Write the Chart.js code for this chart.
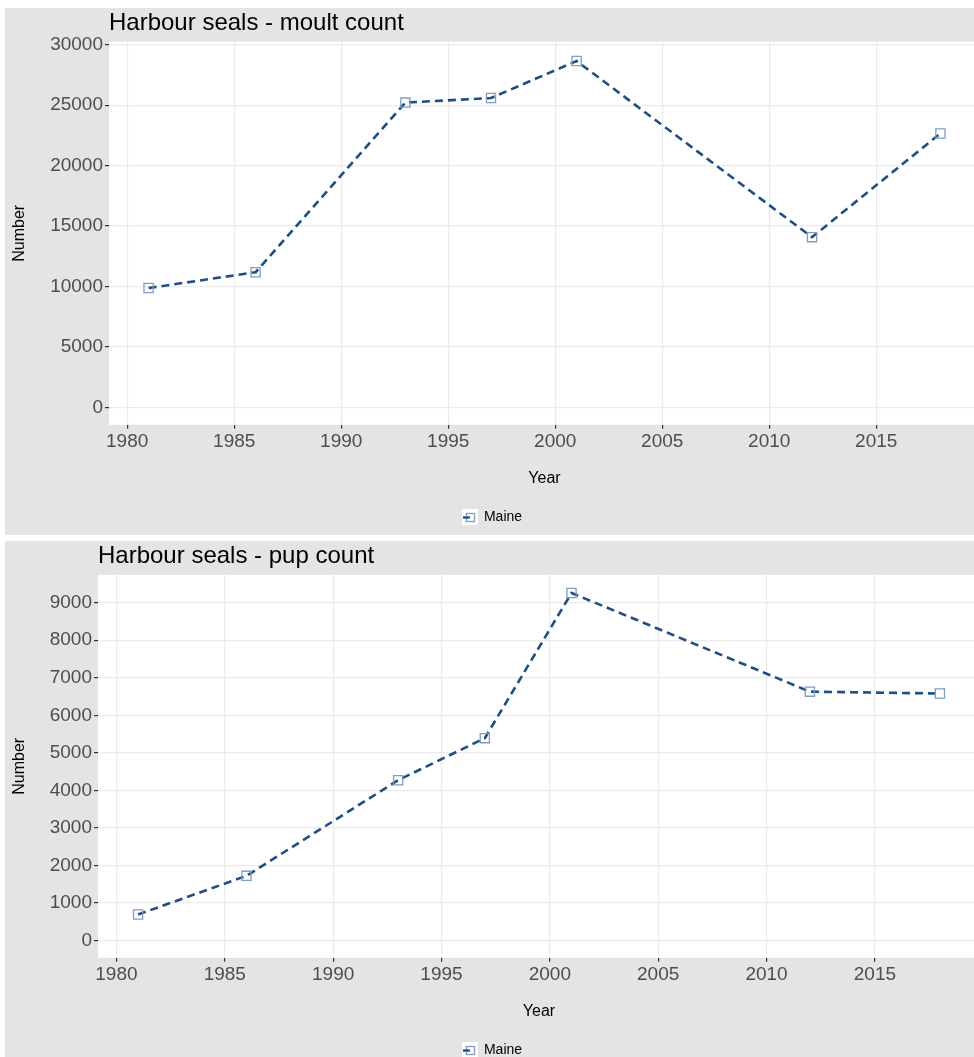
<!DOCTYPE html>
<html>
<head>
<meta charset="utf-8">
<script src="https://cdn.jsdelivr.net/npm/chart.js@4.4.1/dist/chart.umd.min.js"></script>
<style>
  html, body { margin: 0; padding: 0; background: #ffffff; overflow: hidden; }
  .panel { position: absolute; left: 5px; width: 975px; height: 527px; background: #e4e4e4; }
  #p1 { top: 8px; }
  #p2 { top: 541px; }
  canvas { display: block; }
</style>
</head>
<body>
<div class="panel" id="p1"><canvas id="c1" width="975" height="527"></canvas></div>
<div class="panel" id="p2"><canvas id="c2" width="975" height="527"></canvas></div>
<script>
const years = [1981, 1986, 1993, 1997, 2001, 2012, 2018];
const moultCounts = [9870, 11180, 25210, 25590, 28650, 14080, 22660];
const pupCounts = [690, 1720, 4270, 5390, 9260, 6630, 6580];
const xTicks = [1980, 1985, 1990, 1995, 2000, 2005, 2010, 2015];
const moultTicks = [0, 5000, 10000, 15000, 20000, 25000, 30000];
const pupTicks = [0, 1000, 2000, 3000, 4000, 5000, 6000, 7000, 8000, 9000];
const seriesName = 'Maine';
const titles = ['Harbour seals - moult count', 'Harbour seals - pup count'];

const FONT = "'Liberation Sans', Arial, Helvetica, sans-serif";
const LINE_COLOR = '#1b4f8c';
const POINT_COLOR = '#7f9cc6';

// legend key: white key box with a short line and a hollow square
const legendKey = document.createElement('canvas');
legendKey.width = 16; legendKey.height = 16;
(function () {
  const k = legendKey.getContext('2d');
  k.fillStyle = '#ffffff';
  k.fillRect(0, 0, 16, 16);
  k.strokeStyle = POINT_COLOR;
  k.lineWidth = 1.3;
  k.strokeRect(4.5, 4.5, 8, 8);
  k.strokeStyle = LINE_COLOR;
  k.lineWidth = 2.4;
  k.beginPath(); k.moveTo(1, 8.5); k.lineTo(8, 8.5); k.stroke();
})();

const panelBg = {
  id: 'panelBg',
  beforeDraw(chart) {
    const { ctx, chartArea: a } = chart;
    ctx.save();
    ctx.fillStyle = '#ffffff';
    ctx.fillRect(a.left, a.top, a.right - a.left, a.bottom - a.top);
    ctx.restore();
  }
};

function makeChart(id, title, values, yTicks, yMin, yMax, yWidth) {
  const pts = years.map((y, i) => ({ x: y, y: values[i] }));
  return new Chart(document.getElementById(id), {
    type: 'line',
    data: {
      datasets: [{
        label: seriesName,
        data: pts,
        borderColor: LINE_COLOR,
        borderWidth: 2.6,
        borderDash: [8, 5],
        fill: false,
        tension: 0,
        pointStyle: 'rect',
        pointRadius: 6.5,
        pointBorderWidth: 1.3,
        pointBorderColor: POINT_COLOR,
        pointBackgroundColor: 'rgba(255,255,255,0)'
      }]
    },
    options: {
      responsive: false,
      animation: false,
      devicePixelRatio: 1,
      layout: { autoPadding: false, padding: { left: 0, right: 0, top: 0, bottom: 1 } },
      plugins: {
        title: {
          display: true,
          text: title,
          align: 'start',
          fullSize: false,
          color: '#000000',
          font: { family: FONT, size: 24, weight: 'normal' },
          padding: { top: 1, bottom: 4 }
        },
        legend: {
          display: true,
          position: 'bottom',
          labels: {
            usePointStyle: true,
            color: '#000000',
            font: { family: FONT, size: 14 },
            padding: 10,
            generateLabels: (chart) => {
              const items = Chart.defaults.plugins.legend.labels.generateLabels(chart);
              items.forEach(it => { it.pointStyle = legendKey; });
              return items;
            }
          }
        },
        tooltip: { enabled: false }
      },
      scales: {
        x: {
          type: 'linear',
          min: 1979.15,
          max: 2019.85,
          afterBuildTicks: (s) => { s.ticks = xTicks.map(v => ({ value: v })); },
          afterFit: (s) => { s.paddingLeft = 0; s.paddingRight = 0; },
          ticks: {
            color: '#4d4d4d',
            font: { family: FONT, size: 19, lineHeight: 1 },
            padding: 3,
            callback: (v) => String(v)
          },
          grid: { color: '#ebebeb', lineWidth: 1.2, tickLength: 4, tickColor: '#333333' },
          border: { display: false },
          title: {
            display: true,
            text: 'Year',
            color: '#000000',
            font: { family: FONT, size: 16 },
            padding: { top: 15, bottom: 12 }
          }
        },
        y: {
          type: 'linear',
          min: yMin,
          max: yMax,
          afterBuildTicks: (s) => { s.ticks = yTicks.map(v => ({ value: v })); },
          afterFit: (s) => { s.width = yWidth; s.paddingTop = 0; s.paddingBottom = 0; },
          ticks: {
            color: '#4d4d4d',
            font: { family: FONT, size: 19 },
            padding: 2,
            callback: (v) => String(v)
          },
          grid: { color: '#ebebeb', lineWidth: 1.2, tickLength: 4, tickColor: '#333333' },
          border: { display: false },
          title: {
            display: true,
            text: 'Number',
            color: '#000000',
            font: { family: FONT, size: 16 },
            padding: { top: 5, bottom: 2 }
          }
        }
      }
    },
    plugins: [panelBg]
  });
}

makeChart('c1', titles[0], moultCounts, moultTicks, -1440, 30240, 104);
makeChart('c2', titles[1], pupCounts, pupTicks, -464, 9744, 93);
</script>
</body>
</html>
